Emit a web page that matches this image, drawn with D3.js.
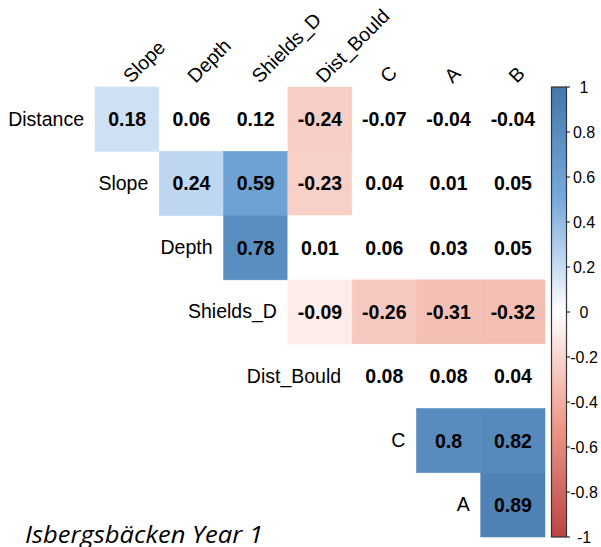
<!doctype html>
<html>
<head>
<meta charset="UTF-8">
<title>Isbergsbäcken Year 1</title>
<script src="https://d3js.org/d3.v7.min.js"></script>
<style>
	body {
		margin: 0;
		background: #fff;
	}
	.chart text {
		font-family: "Liberation Sans", Arial, sans-serif;
		fill: #000;
	}
	.chart .num {
		font-weight: bold;
		font-size: 19.5px;
	}
	.chart .lab {
		font-size: 19.5px;
	}
	.chart .leg {
		font-size: 16px;
	}
	.chart .title {
		font-family: "Open Sans", sans-serif;
		font-style: italic;
		font-size: 23px;
	}
</style>
</head>

<body>
<svg class="chart" width="601" height="547"></svg>
<script>
// variables, in matrix order
var vars = ['Distance', 'Slope', 'Depth', 'Shields_D', 'Dist_Bould', 'C', 'A', 'B'];
// upper triangle, row by row (row i holds vars[i+1..])
var corr = [
	[0.18, 0.06, 0.12, -0.24, -0.07, -0.04, -0.04],
	[0.24, 0.59, -0.23, 0.04, 0.01, 0.05],
	[0.78, 0.01, 0.06, 0.03, 0.05],
	[-0.09, -0.26, -0.31, -0.32],
	[0.08, 0.08, 0.04],
	[0.8, 0.82],
	[0.89]
];
// 1 = significant (cell coloured), 0 = left blank
var signif = [
	[1, 0, 0, 1, 0, 0, 0],
	[1, 1, 1, 0, 0, 0],
	[1, 0, 0, 0, 0],
	[1, 1, 1, 1],
	[0, 0, 0],
	[1, 1],
	[1]
];
var legendTicks = [1, 0.8, 0.6, 0.4, 0.2, 0, -0.2, -0.4, -0.6, -0.8, -1];
var palette = ['#BB4444', '#EE9988', '#FFFFFF', '#77AADD', '#4477AA'];
var title = 'Isbergsbäcken Year 1';

var chart = d3.select('.chart');
var rows = vars.slice(0, vars.length - 1);
var cols = vars.slice(1);

var x = d3.scaleBand().domain(cols).range([95, 545]);
var y = d3.scaleBand().domain(rows).range([87, 537]);
var color = d3.scaleLinear()
	.domain([-1, -0.5, 0, 0.5, 1])
	.range(palette);

var cells = [];
corr.forEach(function(row, i) {
	row.forEach(function(v, k) {
		cells.push({row: rows[i], col: cols[i + k], value: v, sig: signif[i][k]});
	});
});

var g = chart.append('g');
g.selectAll('.cell')
	.data(cells)
	.enter().append('rect')
	.attr('class', 'cell')
	.attr('x', function(d) { return x(d.col); })
	.attr('y', function(d) { return y(d.row); })
	.attr('width', x.bandwidth())
	.attr('height', y.bandwidth())
	.attr('fill', function(d) { return d.sig ? color(d.value) : '#fff'; })
	.attr('stroke', function(d) { return d.sig ? color(d.value) : '#fff'; })
	.attr('stroke-width', 0.5);

g.selectAll('.num')
	.data(cells)
	.enter().append('text')
	.attr('class', 'num')
	.attr('x', function(d) { return x(d.col) + x.bandwidth() / 2; })
	.attr('y', function(d) { return y(d.row) + y.bandwidth() / 2; })
	.attr('dy', '0.36em')
	.attr('text-anchor', 'middle')
	.text(function(d) { return String(d.value); });

// row labels sit left of the first cell in each row
g.selectAll('.rowlab')
	.data(rows)
	.enter().append('text')
	.attr('class', 'lab')
	.attr('x', function(d, i) { return x(cols[i]) - 11; })
	.attr('y', function(d) { return y(d) + y.bandwidth() / 2; })
	.attr('dy', '0.33em')
	.attr('text-anchor', 'end')
	.text(function(d) { return d; });

g.selectAll('.collab')
	.data(cols)
	.enter().append('text')
	.attr('class', 'lab')
	.attr('text-anchor', 'start')
	.attr('transform', function(d) {
		return 'translate(' + (x(d) + x.bandwidth() / 2 + 4) + ',84) rotate(-45)';
	})
	.text(function(d) { return d; });

// colour legend
var ly = d3.scaleLinear().domain([-1, 1]).range([537, 87]);
var grad = chart.append('defs').append('linearGradient')
	.attr('id', 'grad')
	.attr('x1', 0).attr('y1', 1).attr('x2', 0).attr('y2', 0);
grad.selectAll('stop')
	.data(palette)
	.enter().append('stop')
	.attr('offset', function(d, i) { return i / (palette.length - 1); })
	.attr('stop-color', function(d) { return d; });

var leg = chart.append('g');
leg.append('rect')
	.attr('x', 551.5)
	.attr('y', ly(1))
	.attr('width', 15)
	.attr('height', ly(-1) - ly(1))
	.attr('fill', 'url(#grad)')
	.attr('stroke', '#333')
	.attr('stroke-width', 1.2);
leg.selectAll('.tick')
	.data(legendTicks)
	.enter().append('line')
	.attr('x1', 566.5)
	.attr('x2', 570)
	.attr('y1', function(d) { return ly(d); })
	.attr('y2', function(d) { return ly(d); })
	.attr('stroke', '#333')
	.attr('stroke-width', 1.2);
leg.selectAll('.leg')
	.data(legendTicks)
	.enter().append('text')
	.attr('class', 'leg')
	.attr('x', 584)
	.attr('y', function(d) { return ly(d); })
	.attr('dy', '0.35em')
	.attr('text-anchor', 'middle')
	.text(function(d) { return String(d); });

chart.append('text')
	.attr('class', 'title')
	.attr('x', 25)
	.attr('y', 543)
	.attr('textLength', 238)
	.attr('lengthAdjust', 'spacingAndGlyphs')
	.text(title);
</script>
</body>
</html>
